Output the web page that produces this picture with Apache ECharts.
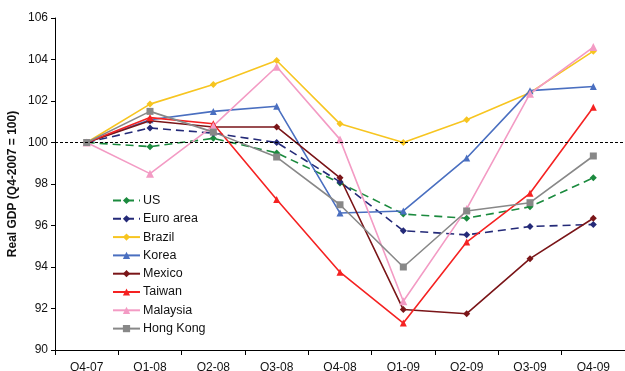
<!DOCTYPE html>
<html>
<head>
<meta charset="utf-8">
<script src="https://cdn.jsdelivr.net/npm/echarts@6/dist/echarts.min.js"></script>
<style>
  html, body { margin: 0; padding: 0; background: #fff; }
  #chart { width: 625px; height: 371px; }
</style>
</head>
<body>
<div id="chart"></div>
<script>
// Quarters on the x axis
const quarters = ['Q4-07', 'Q1-08', 'Q2-08', 'Q3-08', 'Q4-08', 'Q1-09', 'Q2-09', 'Q3-09', 'Q4-09'];

// Real GDP index, Q4-2007 = 100
const us       = [100, 99.8, 100.2, 99.5, 98.05, 96.55, 96.35, 96.9, 98.3];
const euroArea = [100, 100.7, 100.45, 100.0, 98.1, 95.75, 95.55, 95.95, 96.05];
const brazil   = [100, 101.85, 102.8, 103.95, 100.9, 100.0, 101.1, 102.4, 104.4];
const korea    = [100, 101.1, 101.5, 101.75, 96.6, 96.7, 99.25, 102.5, 102.7];
const mexico   = [100, 101.05, 100.75, 100.75, 98.3, 91.95, 91.75, 94.4, 96.35];
const taiwan   = [100, 101.2, 100.9, 97.25, 93.75, 91.3, 95.2, 97.55, 101.7];
const malaysia = [100, 98.5, 100.8, 103.65, 100.15, 92.35, 96.8, 102.35, 104.6];
const hongKong = [100, 101.5, 100.5, 99.3, 97.0, 94.0, 96.7, 97.1, 99.35];

const yTicks = { min: 90, max: 106, step: 2 };

const FONT = '"Liberation Sans", Arial, sans-serif';

function line(name, data, color, symbol, size, dashed) {
  return {
    name: name,
    type: 'line',
    data: data,
    symbol: symbol,
    symbolSize: size,
    showSymbol: true,
    itemStyle: { color: color },
    lineStyle: { color: color, width: 1.6, type: dashed ? [8, 5] : 'solid' },
    emphasis: { disabled: true },
    animation: false,
    z: 3
  };
}

const series = [
  line('US', us, '#1b8a3e', 'diamond', 7, true),
  line('Euro area', euroArea, '#242a78', 'diamond', 7, true),
  line('Brazil', brazil, '#f7c520', 'diamond', 7, false),
  line('Korea', korea, '#4a6fc0', 'triangle', 7, false),
  line('Mexico', mexico, '#7a1518', 'diamond', 7, false),
  line('Taiwan', taiwan, '#f52222', 'triangle', 7, false),
  line('Malaysia', malaysia, '#f39bc4', 'triangle', 8, false),
  line('Hong Kong', hongKong, '#888888', 'rect', 7, false)
];

// Dotted baseline at the Q4-2007 level
series[0].markLine = {
  silent: true,
  symbol: 'none',
  label: { show: false },
  lineStyle: { color: '#000', type: [3, 2], width: 1 },
  data: [{ yAxis: 100 }],
  animation: false
};

const chart = echarts.init(document.getElementById('chart'), null, { renderer: 'canvas' });
chart.setOption({
  backgroundColor: '#fff',
  animation: false,
  textStyle: { fontFamily: FONT },
  grid: { left: 55, right: 0, top: 18, bottom: 21, containLabel: false, outerBoundsMode: 'none' },
  legend: {
    orient: 'vertical',
    left: 107,
    top: 189,
    itemWidth: 27,
    itemHeight: 9,
    itemGap: 5.3,
    data: series.map(s => s.name),
    textStyle: { fontFamily: FONT, fontSize: 12.5, color: '#111', lineHeight: 12, padding: [0, 0, 0, -2] },
    selectedMode: false
  },
  xAxis: {
    type: 'category',
    data: quarters,
    boundaryGap: true,
    axisLine: { lineStyle: { color: '#000', width: 1 } },
    axisTick: { show: true, length: 5, lineStyle: { color: '#000' } },
    axisLabel: { color: '#111', fontSize: 12, fontFamily: FONT, margin: 12, interval: 0 },
    splitLine: { show: false }
  },
  yAxis: {
    type: 'value',
    min: yTicks.min,
    max: yTicks.max,
    interval: yTicks.step,
    name: 'Real GDP (Q4-2007 = 100)',
    nameLocation: 'middle',
    nameGap: 36,
    nameMoveOverlap: false,
    nameTextStyle: { fontFamily: FONT, fontSize: 12, fontWeight: 'bold', color: '#111' },
    axisLine: { show: true, lineStyle: { color: '#000', width: 1 } },
    axisTick: { show: true, length: 4, lineStyle: { color: '#000' } },
    axisLabel: { color: '#111', fontSize: 12, fontFamily: FONT, margin: 7 },
    splitLine: { show: false }
  },
  series: series
});
</script>
</body>
</html>
